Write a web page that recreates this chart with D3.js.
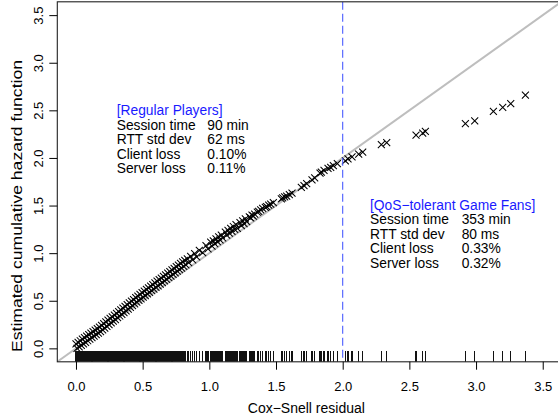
<!DOCTYPE html>
<html><head><meta charset="utf-8">
<script src="https://cdn.jsdelivr.net/npm/d3@7"></script>
<style>body{margin:0;background:#fff}svg{display:block}text{font-family:"Liberation Sans",Arial,Helvetica,sans-serif}</style>
</head><body>
<script>
// Cox-Snell residuals (x) and estimated cumulative hazard (y)
const residuals = [
0.000,0.008,0.016,0.024,0.032,0.040,0.048,0.056,0.064,0.072,0.080,0.088,0.096,0.104,0.112,0.120,0.128,0.136,0.144,0.152,0.160,0.168,0.176,
0.184,0.192,0.200,0.208,0.216,0.224,0.232,0.240,0.248,0.256,0.264,0.272,0.280,0.288,0.296,0.304,0.312,0.320,0.328,0.336,0.344,0.352,0.360,0.368,0.376,0.384,0.392,0.400,0.408,0.416,0.424,0.432,0.440,0.448,0.456,0.464,0.472,0.480,
0.488,0.496,0.504,0.512,0.520,0.528,0.536,0.544,0.552,0.560,0.568,0.576,0.584,0.592,0.600,0.608,0.616,0.624,0.632,0.640,0.648,0.656,0.664,0.672,0.680,0.688,0.696,0.704,0.712,0.720,0.728,0.736,0.744,0.752,0.760,0.768,0.776,
0.784,0.792,0.800,0.808,0.816,0.824,
0.835,0.845,0.860,0.875,0.890,0.905,0.925,0.950,0.975,0.990,1.010,1.020,
1.030,1.040,1.050,1.060,1.070,1.080,1.090,1.100,1.120,1.130,1.140,1.150,1.160,1.170,1.180,1.190,1.200,1.210,1.230,1.240,1.250,1.260,1.270,1.280,1.300,1.310,1.320,1.330,1.340,
1.360,1.370,1.385,1.400,1.420,1.430,1.445,1.460,1.480,
1.540,1.550,1.565,1.580,1.600,1.620,
1.690,1.710,1.730,1.770,1.790,1.830,1.840,1.860,1.890,1.910,1.930,1.960,
2.020,2.040,2.070,2.120,2.150,2.290,2.330,2.550,2.600,2.620,2.920,2.990,3.130,3.200,3.260,3.370
];
const cumHazard = [
0.048,0.000,0.064,0.016,0.080,0.032,0.096,0.048,0.112,0.064,0.128,0.080,0.144,0.096,0.160,0.112,0.176,0.128,0.192,0.144,0.208,0.160,0.224,
0.177,0.242,0.195,0.260,0.213,0.278,0.231,0.296,0.249,0.314,0.267,0.332,0.285,0.350,0.303,0.368,0.322,0.387,0.340,0.405,0.358,0.423,0.376,0.441,0.394,0.459,0.412,0.477,0.430,0.495,0.448,0.513,0.467,0.532,0.485,0.550,0.503,0.568,
0.521,0.585,0.538,0.602,0.555,0.619,0.572,0.636,0.589,0.653,0.606,0.670,0.623,0.688,0.640,0.705,0.657,0.722,0.674,0.739,0.691,0.756,0.708,0.773,0.725,0.790,0.742,0.807,0.760,0.824,0.777,0.841,0.794,0.858,0.811,0.875,0.828,
0.892,0.844,0.908,0.860,0.924,0.876,
0.940,0.900,0.965,0.930,0.995,0.960,1.030,1.005,1.080,1.045,1.115,1.075,
1.130,1.100,1.150,1.120,1.170,1.140,1.190,1.160,1.220,1.190,1.240,1.210,1.260,1.230,1.280,1.250,1.300,1.260,1.320,1.290,1.340,1.310,1.360,1.330,1.380,1.370,1.400,1.390,1.410,
1.430,1.440,1.455,1.470,1.480,1.490,1.505,1.515,1.530,
1.570,1.580,1.590,1.600,1.615,1.630,
1.690,1.710,1.730,1.770,1.790,1.840,1.850,1.870,1.890,1.900,1.920,1.940,
1.970,1.990,2.010,2.040,2.060,2.140,2.160,2.240,2.260,2.280,2.360,2.390,2.490,2.530,2.570,2.660
];
const tickValues = [0.0,0.5,1.0,1.5,2.0,2.5,3.0,3.5];
const cutoff = [2.0];
const groupTitles = ["[Regular Players]","[QoS\u2212tolerant Game Fans]"];
const rowLabels = ["Session time","RTT std dev","Client loss","Server loss"];
const regularValues = ["90 min","62 ms","0.10%","0.11%"];
const fanValues = ["353 min","80 ms","0.33%","0.32%"];
const xTitle = "Cox\u2212Snell residual";
const yTitle = "Estimated cumulative hazard function";

const W = 558, H = 420;
const svg = d3.select("body").append("svg").attr("width", W).attr("height", H);
const x = d3.scaleLinear().domain([-0.14, 3.64]).range([57.3, 561.4]);
const y = d3.scaleLinear().domain([-0.14, 3.64]).range([361.7, 1.8]);

svg.append("defs").append("clipPath").attr("id","plotclip")
  .append("rect").attr("x",57.3).attr("y",1.8).attr("width",504).attr("height",360);

const plot = svg.append("g").attr("clip-path","url(#plotclip)");

// reference line y = x
plot.append("line")
  .attr("x1", x(-0.14)).attr("y1", y(-0.14)).attr("x2", x(3.64)).attr("y2", y(3.64))
  .attr("stroke", "#bebebe").attr("stroke-width", 2);

// points (pch 4 crosses)
const pts = residuals.map((r,i)=>({r, h: cumHazard[i]}));
const s = 3.5;
plot.append("g").selectAll("path").data(pts).join("path")
  .attr("d", d => `M${x(d.r)-s},${y(d.h)-s}L${x(d.r)+s},${y(d.h)+s}M${x(d.r)-s},${y(d.h)+s}L${x(d.r)+s},${y(d.h)-s}`)
  .attr("stroke", "#000").attr("stroke-width", 1.05).attr("fill","none");

// rug
plot.append("g").attr("shape-rendering","crispEdges").selectAll("line").data(residuals).join("line")
  .attr("x1", d=>x(d)).attr("x2", d=>x(d))
  .attr("y1", y.range()[0] - 10.5).attr("y2", y.range()[0])
  .attr("stroke", "#111").attr("stroke-width", 1.2);

// cutoff line
plot.selectAll("line.cut").data(cutoff).join("line").attr("class","cut")
  .attr("x1", d=>x(d)).attr("x2", d=>x(d)).attr("y1", 1.8).attr("y2", 361.7)
  .attr("stroke", "#4a5cff").attr("stroke-width", 1.1).attr("stroke-dasharray","8,4");

// box
svg.append("rect").attr("x",57.3).attr("y",1.8).attr("width",504).attr("height",360)
  .attr("fill","none").attr("stroke","#222").attr("stroke-width",1.1);

// axes
const xAxis = d3.axisBottom(x).tickValues(tickValues).tickFormat(d3.format(".1f")).tickSize(8).tickPadding(12);
const gx = svg.append("g").attr("transform", `translate(0,${y.range()[0]})`).call(xAxis);
gx.select(".domain").remove();
gx.selectAll("text").attr("font-size", 13).attr("fill","#000").attr("font-family","Liberation Sans, Arial, sans-serif");

const yAxis = d3.axisLeft(y).tickValues(tickValues).tickFormat(d3.format(".1f")).tickSize(8);
const gy = svg.append("g").attr("transform", `translate(${x.range()[0]},0)`).call(yAxis);
gy.select(".domain").remove();
gy.selectAll(".tick text").attr("x", null).attr("dy", null)
  .attr("transform", "translate(-14,0) rotate(-90)")
  .attr("text-anchor","middle").attr("font-size", 13).attr("fill","#000")
  .attr("font-family","Liberation Sans, Arial, sans-serif");

svg.append("text").attr("x", (57.3+561.4)/2 - 3).attr("y", 413).attr("text-anchor","middle")
  .attr("font-size", 14).text(xTitle);
svg.append("text").attr("transform", `translate(21.5,206) rotate(-90)`).attr("text-anchor","middle")
  .attr("font-size", 14.5).attr("textLength", 292).attr("lengthAdjust","spacingAndGlyphs").text(yTitle);

// annotation blocks
function block(x0, x1, yBase, title, vals){
  const g = svg.append("g").attr("font-size", 13.8);
  g.append("text").attr("x", x0).attr("y", yBase).attr("fill","#1a1aff").text(title);
  rowLabels.forEach((l,i)=>{
    g.append("text").attr("x", x0).attr("y", yBase + 14.6*(i+1)).attr("fill","#000").text(l);
    g.append("text").attr("x", x1).attr("y", yBase + 14.6*(i+1)).attr("fill","#000").text(vals[i]);
  });
}
block(116.7, 207.3, 115, groupTitles[0], regularValues);
block(370, 461.7, 209.5, groupTitles[1], fanValues);
</script>
</body></html>
